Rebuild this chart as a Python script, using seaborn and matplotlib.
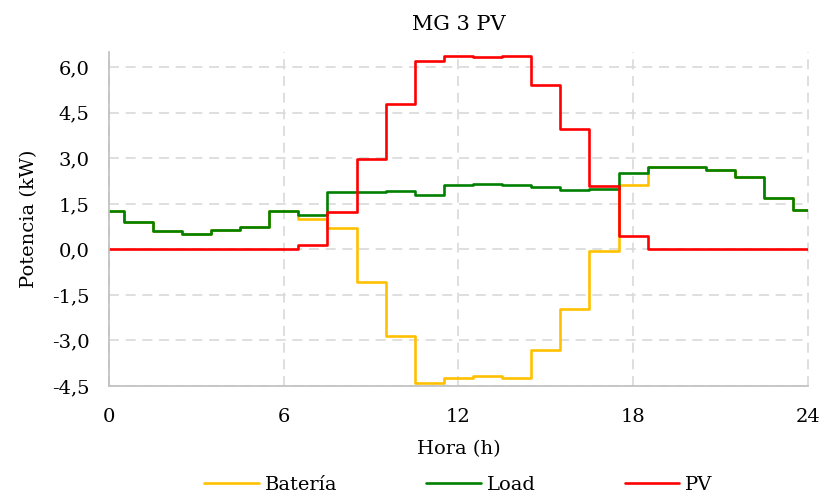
import numpy as np
import pandas as pd
import matplotlib
matplotlib.use("Agg")
import matplotlib.pyplot as plt
import seaborn as sns
from matplotlib.ticker import FuncFormatter

# ==== data ====
horas = list(range(25))
bateria = [1.25, 0.90, 0.60, 0.52, 0.64, 0.74, 1.26, 1.01, 0.69, -1.08,
           -2.84, -4.40, -4.24, -4.18, -4.24, -3.32, -1.96, -0.06, 2.12, 2.73,
           2.73, 2.62, 2.39, 1.71, 1.30]
load = [1.26, 0.90, 0.60, 0.52, 0.64, 0.74, 1.26, 1.15, 1.90, 1.89,
        1.92, 1.78, 2.11, 2.14, 2.11, 2.06, 1.97, 2.00, 2.53, 2.73,
        2.73, 2.62, 2.39, 1.71, 1.30]
pv = [0, 0, 0, 0, 0, 0, 0, 0.15, 1.22, 2.97,
      4.79, 6.20, 6.36, 6.35, 6.37, 5.41, 3.96, 2.09, 0.44, 0,
      0, 0, 0, 0, 0]

series = {"Batería": bateria, "Load": load, "PV": pv}
colores = {"Batería": "#FFC000", "Load": "#008000", "PV": "#FF0000"}

df = pd.concat([pd.DataFrame({"Hora": horas, "Potencia": v, "Serie": k})
                for k, v in series.items()], ignore_index=True)

sns.set_style("white")
plt.rcParams['font.family'] = ['DejaVu Serif']
plt.rcParams['text.color'] = 'black'
plt.rcParams['xtick.color'] = 'black'
plt.rcParams['ytick.color'] = 'black'
plt.rcParams['axes.labelcolor'] = 'black'

fig = plt.figure(figsize=(8.26, 5.01), dpi=100)
ax = fig.add_axes([0.132, 0.2295, 0.846, 0.6665])

sns.lineplot(data=df, x="Hora", y="Potencia", hue="Serie",
             hue_order=list(series.keys()), palette=colores,
             drawstyle="steps-mid", linewidth=1.9, ax=ax)

ax.set_xlim(0, 24)
ax.set_ylim(-4.5, 6.5)
ax.set_xticks([0, 6, 12, 18, 24])
ax.set_yticks(np.arange(-4.5, 6.01, 1.5))
ax.yaxis.set_major_formatter(FuncFormatter(lambda v, p: f"{v:.1f}".replace(".", ",")))
ax.tick_params(length=0, labelsize=14)
ax.tick_params(axis="x", pad=16)
ax.tick_params(axis="y", pad=14)

ax.grid(True, color="#d9d9d9", linestyle=(0, (6, 4)), linewidth=1.2)
for gl in ax.get_xgridlines():
    gl.set_clip_on(False)
for s in ["top", "right"]:
    ax.spines[s].set_visible(False)
for s in ["left", "bottom"]:
    ax.spines[s].set_color("#bfbfbf")
    ax.spines[s].set_linewidth(1.2)

ax.set_xlabel("Hora (h)", fontsize=14, labelpad=10)
ax.set_ylabel("Potencia (kW)", fontsize=14, labelpad=10)
ax.set_title("MG 3 PV", fontsize=15, pad=16)

sns.move_legend(ax, "center", bbox_to_anchor=(0.5, -0.296), ncol=3,
                frameon=False, title=None, fontsize=14, handlelength=2.8,
                columnspacing=4.6, handletextpad=0.3, borderaxespad=0)

fig.savefig("out.png", dpi=100)
